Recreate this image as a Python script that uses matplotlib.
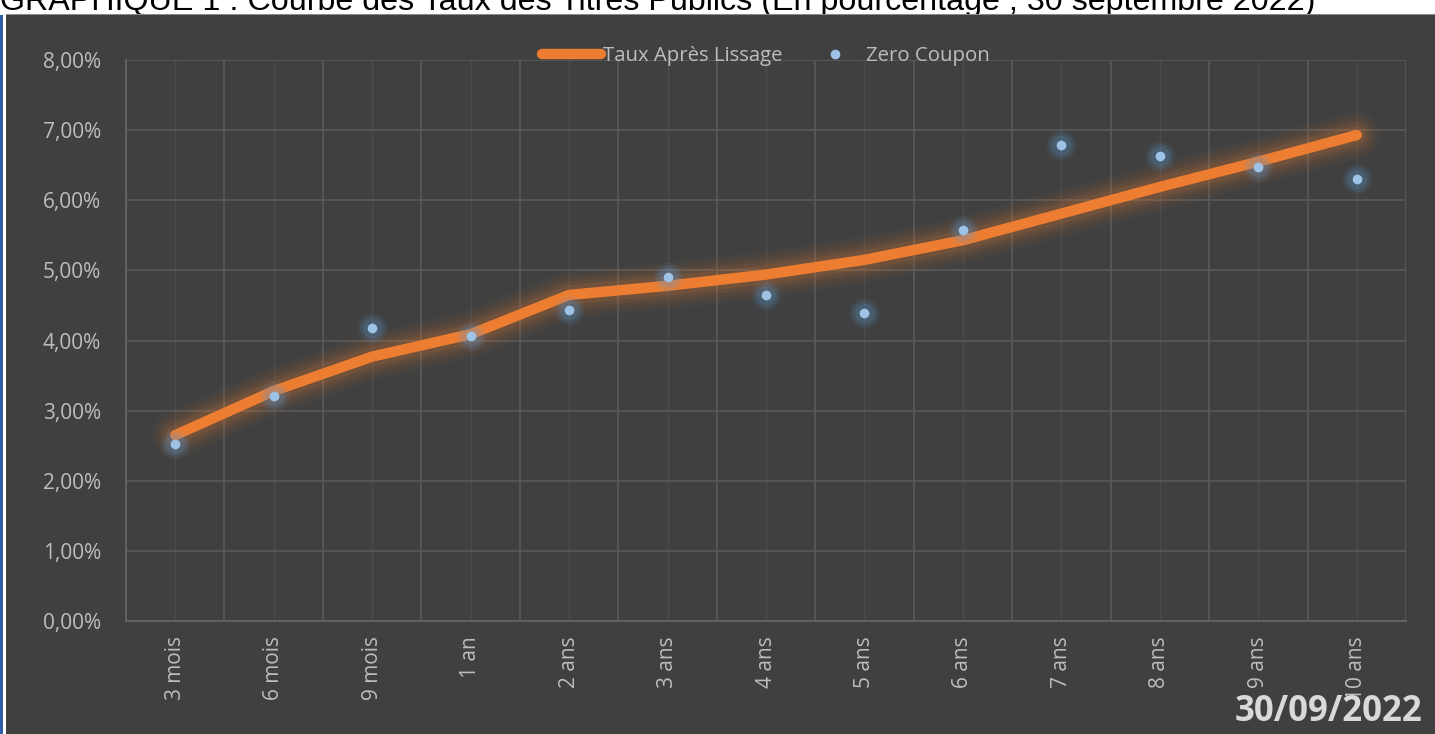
import matplotlib
matplotlib.use("Agg")
import matplotlib.pyplot as plt
from matplotlib.patches import Rectangle
from matplotlib.ticker import FixedLocator, FuncFormatter
import numpy as np

categories = ["3 mois", "6 mois", "9 mois", "1 an", "2 ans", "3 ans", "4 ans",
              "5 ans", "6 ans", "7 ans", "8 ans", "9 ans", "10 ans"]
taux_lissage = [2.65, 3.28, 3.77, 4.09, 4.65, 4.78, 4.94, 5.15, 5.43, 5.81, 6.19, 6.55, 6.93]
zero_coupon = [2.52, 3.21, 4.18, 4.07, 4.44, 4.91, 4.65, 4.39, 5.57, 6.79, 6.63, 6.47, 6.31]
yticks = [0, 1, 2, 3, 4, 5, 6, 7, 8]

title = "GRAPHIQUE 1 : Courbe des Taux des Titres Publics (En pourcentage , 30 septembre 2022)"
date_txt = "30/09/2022"

W, H = 1435, 734
fig = plt.figure(figsize=(W / 100, H / 100), dpi=100, facecolor="white")

def fx(px):
    return px / W

def fy(py):
    return 1 - py / H

# dark panel and blue border (drawn beneath the axes)
fig.patches.append(Rectangle((fx(6), 0), 1 - fx(6), fy(15), transform=fig.transFigure,
                             facecolor="#404040", edgecolor="none", zorder=-2))
fig.patches.append(Rectangle((0, 0), fx(2.5), fy(15), transform=fig.transFigure,
                             facecolor="#2e5fa6", edgecolor="none", zorder=-2))
fig.patches.append(Rectangle((fx(6), fy(15)), 1 - fx(6), 1.2 / H, transform=fig.transFigure,
                             facecolor="#8a8a8a", edgecolor="none", zorder=-2))

fig.text(0.0, fy(10), title, fontsize=23.2, family="Liberation Sans", color="black",
         ha="left", va="baseline", zorder=-3)

ax = fig.add_axes([fx(126), fy(621), fx(1406) - fx(126), fy(60) - fy(621)])
ax.set_facecolor("none")

x = np.arange(len(categories))
ax.set_xlim(-0.5, len(categories) - 0.5)
ax.set_ylim(0, 8)

# grid
ax.xaxis.set_major_locator(FixedLocator(x))
ax.xaxis.set_minor_locator(FixedLocator(np.arange(len(categories) + 1) - 0.5))
ax.yaxis.set_major_locator(FixedLocator(yticks))
ax.grid(True, which="minor", axis="x", color="#5a5a5a", linewidth=1.2)
ax.grid(True, which="major", axis="x", color="#4b4b4b", linewidth=1.0)
ax.grid(True, which="major", axis="y", color="#5a5a5a", linewidth=1.2)
ax.set_axisbelow(True)

for s in ["top", "right"]:
    ax.spines[s].set_visible(False)
for s in ["left", "bottom"]:
    ax.spines[s].set_color("#666666")
    ax.spines[s].set_linewidth(1.2)

ax.set_xticks(x)
ax.set_xticklabels(categories, rotation=90, fontsize=15, family="Open Sans", color="#bdbdbd")
ax.yaxis.set_major_formatter(FuncFormatter(lambda v, p: f"{v:.2f}".replace(".", ",") + "%"))
for lab in ax.get_yticklabels():
    lab.set_family("Open Sans")
ax.tick_params(axis="y", labelsize=15, labelcolor="#bdbdbd", length=0, pad=18)
ax.tick_params(axis="x", which="both", length=0, pad=11)

# line glow
for lw, a in [(34, 0.035), (29, 0.045), (24, 0.06), (19, 0.08), (14, 0.12)]:
    ax.plot(x, taux_lissage, color="#ed7d31", linewidth=lw, alpha=a,
            solid_capstyle="round", solid_joinstyle="round", zorder=3)
line, = ax.plot(x, taux_lissage, color="#ed7d31", linewidth=7.5,
                solid_capstyle="round", solid_joinstyle="round", zorder=4,
                label="Taux Après Lissage")

# dot glow
for ms, a in [(22, 0.08), (18, 0.12), (14, 0.18)]:
    ax.plot(x, zero_coupon, linestyle="none", marker="o", markersize=ms,
            color="#5b9bd5", alpha=a, markeredgewidth=0, zorder=5)
dots, = ax.plot(x, zero_coupon, linestyle="none", marker="o", markersize=7,
                color="#9dc3e6", markeredgewidth=0, zorder=6, label="Zero Coupon")

leg = ax.legend(handles=[line, dots], loc="center", bbox_to_anchor=(0.5, 1 + 4 / 561),
                ncol=2, frameon=False, prop={"family": "Open Sans", "size": 14.7},
                labelcolor="#bdbdbd", handlelength=2.9, handletextpad=0.1,
                columnspacing=1.1, borderaxespad=0)

fig.text(fx(1422), fy(730), date_txt, fontsize=25, fontweight="bold", family="Open Sans",
         color="#d9d9d9", ha="right", va="bottom")

fig.savefig("out.png", dpi=100, facecolor=fig.get_facecolor())
